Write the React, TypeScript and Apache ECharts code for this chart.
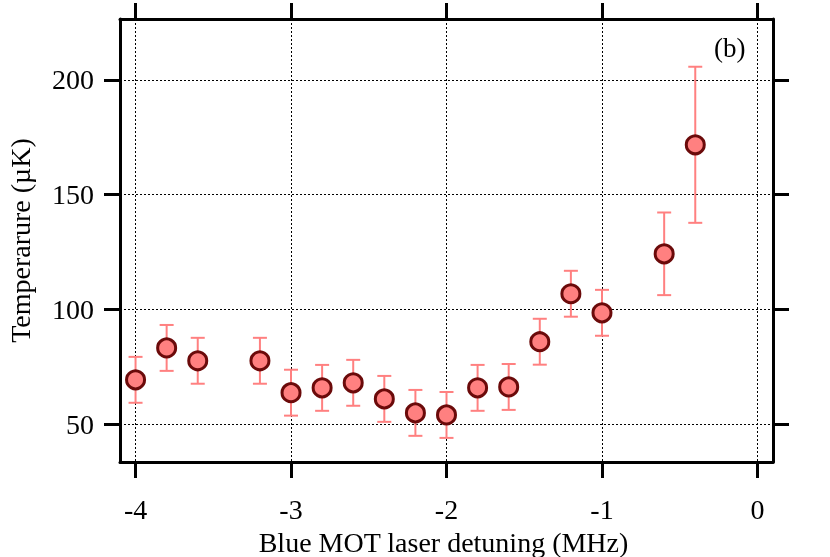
import React, { useEffect, useRef } from "react";
import * as echarts from "echarts";

const detuning = [-4, -3.8, -3.6, -3.2, -3, -2.8, -2.6, -2.4, -2.2, -2, -1.8, -1.6, -1.4, -1.2, -1, -0.6, -0.4];
const temperature = [69.3, 83.2, 77.6, 77.6, 63.7, 65.8, 68.0, 61.0, 54.9, 54.0, 65.8, 66.2, 85.9, 106.8, 98.5, 124.2, 171.7];
const errors = [10, 10, 10, 10, 10, 10, 10, 10, 10, 10, 10, 10, 10, 10, 10, 18, 34];
const xTicks = [-4, -3, -2, -1, 0];
const yTicks = [50, 100, 150, 200];

const FONT = "'Liberation Serif', 'Times New Roman', serif";

export default function App() {
  const ref = useRef<HTMLDivElement>(null);
  useEffect(() => {
    if (!ref.current) return;
    const chart = echarts.init(ref.current, undefined, { renderer: "svg" });
    const xMin = -4.1, xMax = 0.1, yMin = 33.5, yMax = 226.5;
    const grid = { left: 120, right: 57, top: 19, bottom: 95, containLabel: false, outerBoundsMode: "none" };
    const dotted = { color: "#000", width: 1, type: [2, 2] as any };
    const boxLine = { show: true, onZero: false, lineStyle: { color: "#000", width: 3 } };
    const tick = (vals: number[]) => ({ show: true, inside: false, length: 16, customValues: vals, lineStyle: { color: "#000", width: 3 } });
    const data = detuning.map((x, i) => [x, temperature[i], errors[i]]);
    chart.setOption({
      animation: false,
      grid,
      xAxis: [
        {
          type: "value", position: "bottom", min: xMin, max: xMax,
          axisLine: boxLine, axisTick: tick(xTicks),
          axisLabel: { customValues: xTicks, margin: 33, fontFamily: FONT, fontSize: 28, color: "#000", formatter: (v: number) => String(v) },
          splitLine: { show: true, customValues: xTicks, lineStyle: dotted },
          name: "Blue MOT laser detuning (MHz)", nameLocation: "middle", nameGap: 62,
          nameTextStyle: { fontFamily: FONT, fontSize: 28, lineHeight: 30, color: "#000", padding: [0, 6, 0, 0] },
        },
        {
          type: "value", position: "top", min: xMin, max: xMax,
          axisLine: boxLine, axisTick: tick(xTicks), axisLabel: { show: false }, splitLine: { show: false },
        },
      ],
      yAxis: [
        {
          type: "value", position: "left", min: yMin, max: yMax,
          axisLine: boxLine, axisTick: tick(yTicks),
          axisLabel: { customValues: yTicks, margin: 26, fontFamily: FONT, fontSize: 28, color: "#000" },
          splitLine: { show: true, customValues: yTicks, lineStyle: dotted },
          name: "Temperarure (µK)", nameLocation: "middle", nameGap: 86, nameRotate: 90,
          nameTextStyle: { fontFamily: FONT, fontSize: 28, color: "#000" },
        },
        {
          type: "value", position: "right", min: yMin, max: yMax,
          axisLine: boxLine, axisTick: tick(yTicks), axisLabel: { show: false }, splitLine: { show: false },
        },
      ],
      graphic: [
        { type: "text", left: 714, top: 34, style: { text: "(b)", font: `27px ${FONT}`, fill: "#000" } },
      ],
      series: [
        {
          type: "custom",
          xAxisIndex: 0, yAxisIndex: 0,
          data,
          encode: { x: 0, y: 1 },
          z: 2,
          renderItem: (params: any, api: any) => {
            const x = api.value(0), y = api.value(1), e = api.value(2);
            const top = api.coord([x, y + e]);
            const bot = api.coord([x, y - e]);
            const hw = 7;
            const st = { stroke: "#ff8080", lineWidth: 2 };
            return {
              type: "group",
              children: [
                { type: "line", shape: { x1: top[0], y1: top[1], x2: bot[0], y2: bot[1] }, style: st },
                { type: "line", shape: { x1: top[0] - hw, y1: top[1], x2: top[0] + hw, y2: top[1] }, style: st },
                { type: "line", shape: { x1: bot[0] - hw, y1: bot[1], x2: bot[0] + hw, y2: bot[1] }, style: st },
              ],
            };
          },
        },
        {
          type: "scatter",
          xAxisIndex: 0, yAxisIndex: 0,
          data: detuning.map((x, i) => [x, temperature[i]]),
          symbol: "circle",
          symbolSize: 18,
          z: 3,
          itemStyle: { color: "#ff8080", borderColor: "#6b0a0a", borderWidth: 3, opacity: 1 },
        },
      ],
    });
    return () => chart.dispose();
  }, []);
  return <div ref={ref} style={{ position: "fixed", left: 0, top: 0, width: 830, height: 557 }} />;
}
